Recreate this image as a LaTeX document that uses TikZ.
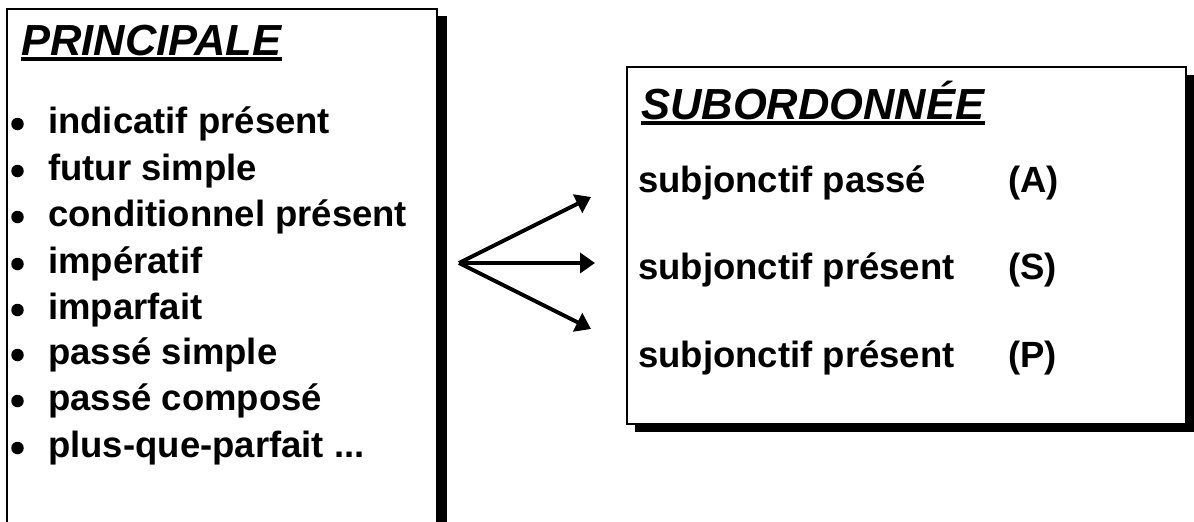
\documentclass[tikz,border=0pt]{standalone}
\usepackage{fontspec}
\setmainfont{Liberation Sans}
\usetikzlibrary{arrows.meta}
\begin{document}
\begin{tikzpicture}[x=1pt,y=-1pt,
  boxline/.style={draw=black,line width=2.5pt,fill=white},
  shadowfill/.style={fill=black},
  titletext/.style={font=\fontsize{43.5}{50}\selectfont\bfseries\itshape,inner sep=0pt,anchor=base west},
  bodytext/.style={font=\fontsize{36.5}{42}\selectfont\bfseries,inner sep=0pt,anchor=base west},
  bulletdot/.style={circle,fill=black,inner sep=0pt,minimum size=12.5pt},
  forkarrow/.style={-{Triangle[length=15pt,width=20pt]},line width=4pt}]
\useasboundingbox (0,0) rectangle (1194,522);
\clip (0,0) rectangle (1194,522);
% left box with shadow
\fill[shadowfill] (15,16) rectangle (447,545);
\draw[boxline] (7,9) rectangle (437,537);
% right box with shadow
\fill[shadowfill] (635,75) rectangle (1194,432);
\draw[boxline] (627,67) rectangle (1186,424);
% titles
\node[titletext] (ptitle) at (21,55) {PRINCIPALE};
\fill (ptitle.base west) ++(0,1.5) rectangle ([yshift=-5.5pt]ptitle.base east);
\node[titletext] (stitle) at (641,119) {SUBORDONNÉE};
\fill (stitle.base west) ++(0,2) rectangle ([yshift=-6pt]stitle.base east);
% list
\node[bulletdot] (bul0) at (17.5,124) {};
\node[bodytext] (item0) at (48,133) {indicatif présent};
\node[bulletdot] (bul1) at (17.5,171) {};
\node[bodytext] (item1) at (48,180) {futur simple};
\node[bulletdot] (bul2) at (17.5,217) {};
\node[bodytext] (item2) at (48,226) {conditionnel présent};
\node[bulletdot] (bul3) at (17.5,264) {};
\node[bodytext] (item3) at (48,273) {impératif};
\node[bulletdot] (bul4) at (17.5,310) {};
\node[bodytext] (item4) at (48,319) {imparfait};
\node[bulletdot] (bul5) at (17.5,355) {};
\node[bodytext] (item5) at (48,364) {passé simple};
\node[bulletdot] (bul6) at (17.5,401) {};
\node[bodytext] (item6) at (48,410) {passé composé};
\node[bulletdot] (bul7) at (17.5,448) {};
\node[bodytext] (item7) at (48,457) {plus-que-parfait ...};
% right rows
\node[bodytext] (rowA) at (638,192) {subjonctif passé};
\node[bodytext] (labA) at (1008,192) {(A)};
\node[bodytext] (rowS) at (638,279) {subjonctif présent};
\node[bodytext] (labS) at (1008,279) {(S)};
\node[bodytext] (rowP) at (638,367) {subjonctif présent};
\node[bodytext] (labP) at (1008,367) {(P)};
% arrows
\coordinate (fork) at (459,263);
\coordinate (tipA) at (591,197);
\coordinate (tipS) at (595,263);
\coordinate (tipP) at (591,329);
\draw[forkarrow] (fork) -- (tipA);
\draw[forkarrow] (fork) -- (tipS);
\draw[forkarrow] (fork) -- (tipP);
\end{tikzpicture}
\end{document}
